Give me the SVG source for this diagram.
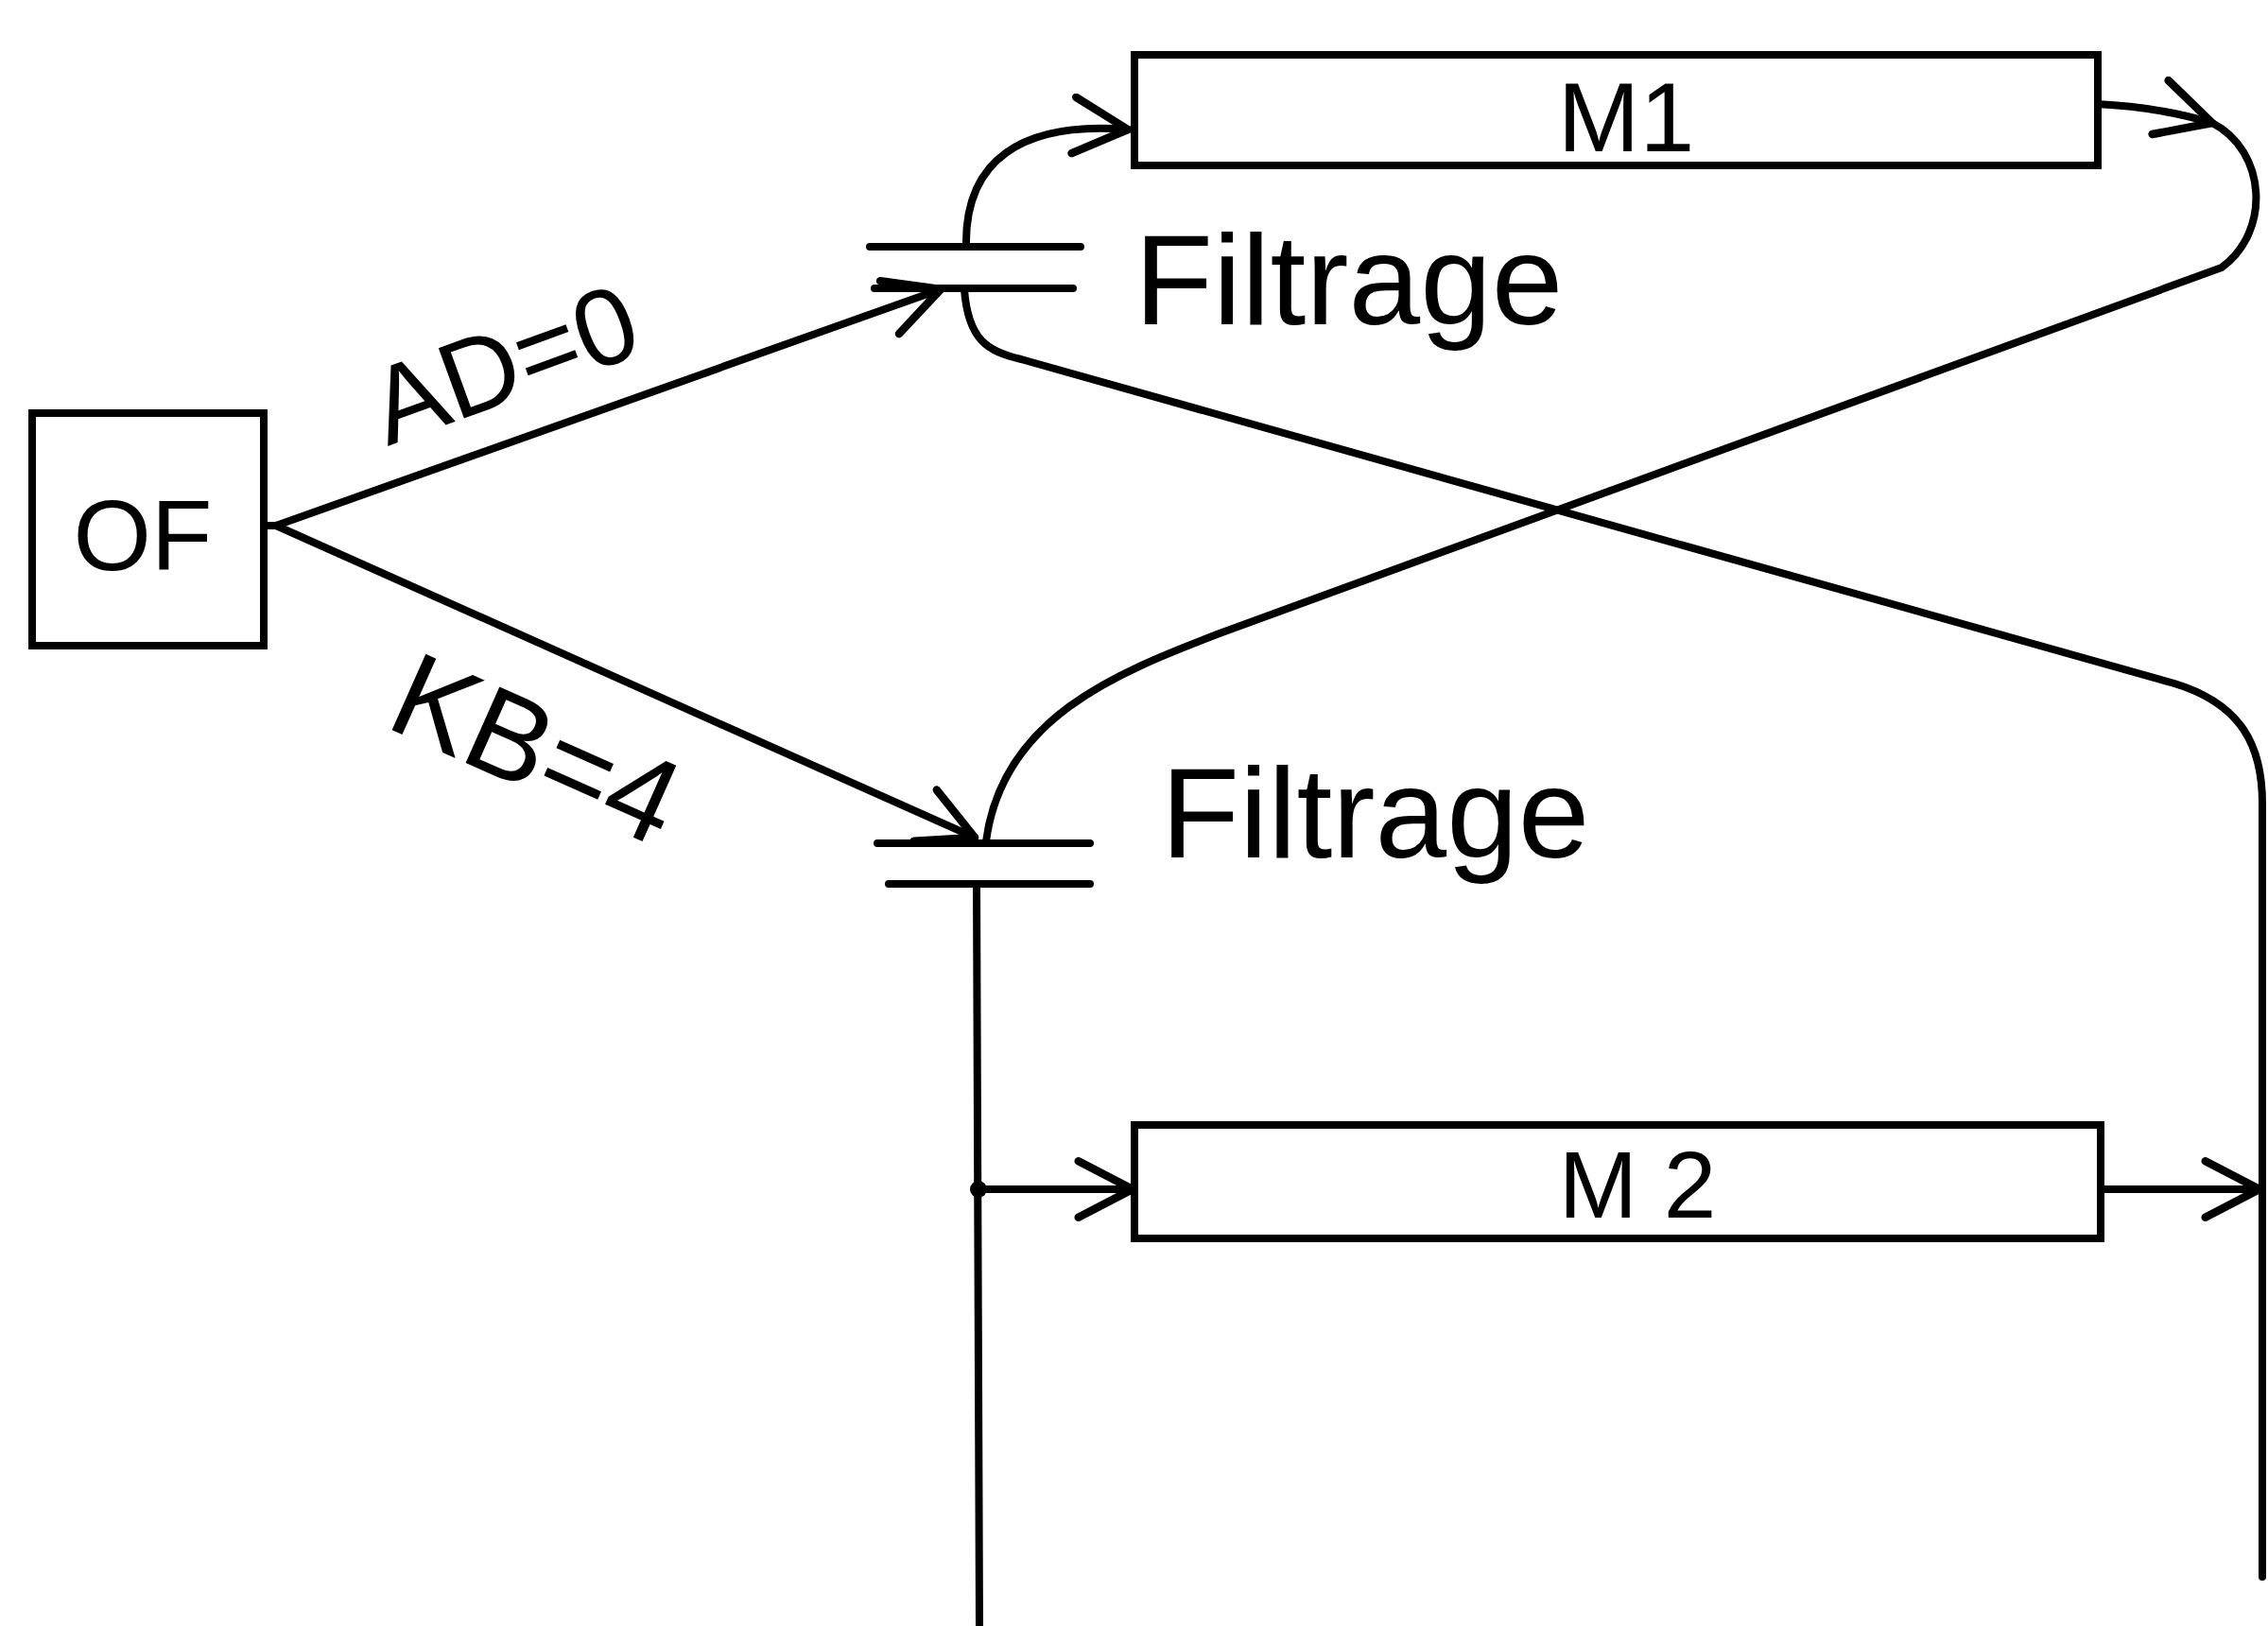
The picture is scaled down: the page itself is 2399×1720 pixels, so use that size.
<svg xmlns="http://www.w3.org/2000/svg" width="2399" height="1720" viewBox="0 0 2399 1720">
<style>
.ln{fill:none;stroke:#000;stroke-width:8;stroke-linecap:round;stroke-linejoin:round}
.bx{fill:#fff;stroke:#000;stroke-width:8}
.tx{font-family:"Liberation Sans",Arial,sans-serif;fill:#000}
</style>
<defs>
<marker id="chev" markerUnits="userSpaceOnUse" markerWidth="70" markerHeight="70" viewBox="-4 -4 66 66" refX="56" refY="28" orient="auto">
<path d="M2,0 L56,28 L2,56" fill="none" stroke="#000" stroke-width="8" stroke-linecap="round" stroke-linejoin="round"/>
</marker>
</defs>
<rect width="2399" height="1720" fill="#fff"/>
<g id="connectors">
<path class="ln" d="M281,556 L292,556"/>
<path class="ln" d="M292,556 L995,306" marker-end="url(#chev)"/>
<path class="ln" d="M292,556 L1031,886" marker-end="url(#chev)"/>
<path class="ln" d="M1022,261 C1020,170 1080,128 1193,137" marker-end="url(#chev)"/>
<path class="ln" d="M1020,306 C1024,360 1045,372 1080,380 L2300,723 C2372,745 2393,790 2393,850 L2393,1668"/>
<path class="ln" d="M2218,110 C2260,112 2300,118 2340,130" marker-end="url(#chev)"/>
<path class="ln" d="M2340,130 C2398,160 2402,245 2350,283 L1290,670 C1180,712 1060,760 1043,890"/>
<path class="ln" d="M1033,935 L1036,1720"/>
<path class="ln" d="M1035,1258 L1198,1258" marker-end="url(#chev)"/>
<path class="ln" d="M2222,1258 L2390,1258" marker-end="url(#chev)"/>
<circle cx="1035" cy="1258" r="9" fill="#000"/>
</g>
<g id="node-OF">
<rect class="bx" x="34" y="437" width="245" height="246"/>
<text class="tx" x="151" y="603" font-size="106" text-anchor="middle">OF</text>
</g>
<g id="node-M1">
<rect class="bx" x="1200" y="58" width="1019" height="117"/>
<text class="tx" x="1720" y="160" font-size="104" text-anchor="middle">M1</text>
</g>
<g id="node-M2">
<rect class="bx" x="1200" y="1190" width="1022" height="120"/>
<text class="tx" x="1732" y="1288" font-size="100" text-anchor="middle">M 2</text>
</g>
<g id="filter-1">
<path class="ln" d="M920,261 L1143,261 M925,305 L1135,305"/>
<text class="tx" x="1200" y="343" font-size="136">Filtrage</text>
</g>
<g id="filter-2">
<path class="ln" d="M928,892 L1153,892 M940,935 L1153,935"/>
<text class="tx" x="1228" y="907" font-size="136">Filtrage</text>
</g>
<g id="label-AD">
<text class="tx" font-size="115" transform="translate(410,472) rotate(-20)">AD=0</text>
</g>
<g id="label-KB">
<text class="tx" font-size="128" transform="translate(405,768) rotate(24)">KB=4</text>
</g>
</svg>
